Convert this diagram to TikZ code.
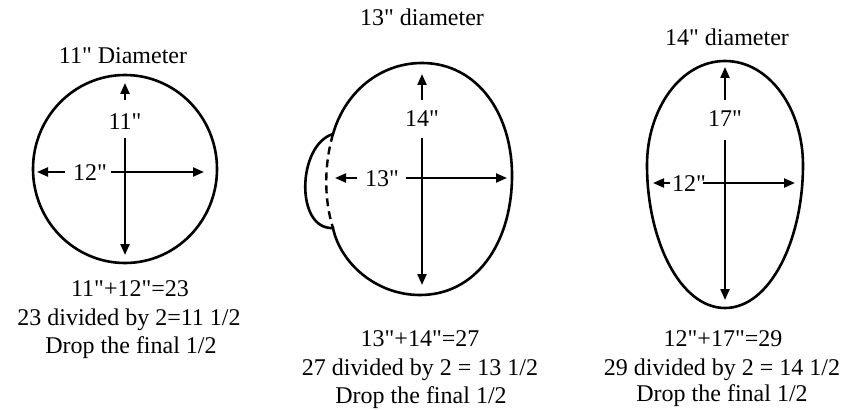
\documentclass[tikz,border=0pt]{standalone}
\usepackage{fontspec}
\setmainfont{Liberation Serif}[Ligatures=TeXOff]
\usetikzlibrary{arrows.meta}
\begin{document}
\begin{tikzpicture}[x=1pt,y=-1pt,
  txt/.style={font=\fontsize{24}{28}\selectfont, inner sep=0pt, anchor=base},
  outl/.style={line width=2.6pt},
  arr/.style={line width=2.2pt,-{Triangle[length=11pt,width=9pt]}},
  stem/.style={line width=2.2pt}]
\useasboundingbox (0,0) rectangle (842,409);

% ---------- Panel 1 ----------
\node[txt] (t1) at (123,63.5) {11" Diameter};
\draw[outl] (125,169) ellipse [x radius=92, y radius=94];
\node[txt] (v1l) at (125,129.5) {11"};
\node[txt] (h1l) at (90,180.5) {12"};
\coordinate (v1a) at (125,100);  \coordinate (v1t) at (125,83);
\coordinate (v1b) at (125,138);  \coordinate (v1d) at (125,255);
\coordinate (h1a) at (65,172);   \coordinate (h1t) at (37,172);
\coordinate (h1b) at (111,172);  \coordinate (h1r) at (204,172);
\draw[arr] (v1a) -- (v1t);
\draw[arr] (v1b) -- (v1d);
\draw[arr] (h1a) -- (h1t);
\draw[arr] (h1b) -- (h1r);
\node[txt] (a1) at (130,296.5) {11"+12"=23};
\node[txt] (b1) at (129,325.5) {23 divided by 2=11 1/2};
\node[txt] (c1) at (131,353.5) {Drop the final 1/2};

% ---------- Panel 2 ----------
\node[txt] (t2) at (422,25.5) {13" diameter};
\draw[outl] (422,63) .. controls (478,63) and (513,115) .. (512,178)
  .. controls (511,245) and (475,295) .. (420,295)
  .. controls (375,295) and (340,262) .. (333,228)
  .. controls (295,230) and (297,145) .. (333,134)
  .. controls (345,92) and (380,63) .. (422,63) -- cycle;
\draw[line width=2.4pt, dash pattern=on 8pt off 5pt] (333,134) .. controls (324,165) and (324,200) .. (333,228);
\node[txt] (v2l) at (422,126.5) {14"};
\node[txt] (h2l) at (382,186.5) {13"};
\coordinate (v2a) at (422,100);  \coordinate (v2t) at (422,74);
\coordinate (v2b) at (422,138);  \coordinate (v2d) at (422,285);
\coordinate (h2a) at (357,178);  \coordinate (h2t) at (335,178);
\coordinate (h2b) at (406,178);  \coordinate (h2r) at (507,178);
\draw[arr] (v2a) -- (v2t);
\draw[arr] (v2b) -- (v2d);
\draw[arr] (h2a) -- (h2t);
\draw[arr] (h2b) -- (h2r);
\node[txt] (a2) at (420,346.5) {13"+14"=27};
\node[txt] (b2) at (420,375.5) {27 divided by 2 = 13 1/2};
\node[txt] (c2) at (421,403) {Drop the final 1/2};

% ---------- Panel 3 ----------
\node[txt] (t3) at (727,45.5) {14" diameter};
\draw[outl] (725,61) .. controls (770,61) and (803,110) .. (803,165)
  .. controls (803,240) and (770,308) .. (725,308)
  .. controls (680,308) and (647,240) .. (647,165)
  .. controls (647,110) and (680,61) .. (725,61) -- cycle;
\node[txt] (v3l) at (725,126.5) {17"};
\node[txt] (h3l) at (689,191.5) {12"};
\coordinate (v3a) at (725,100);  \coordinate (v3t) at (725,67);
\coordinate (v3b) at (725,140);  \coordinate (v3d) at (725,300);
\coordinate (h3a) at (670,183);  \coordinate (h3t) at (653,183);
\coordinate (h3b) at (703,183);  \coordinate (h3r) at (795,183);
\draw[arr] (v3a) -- (v3t);
\draw[arr] (v3b) -- (v3d);
\draw[arr] (h3a) -- (h3t);
\draw[arr] (h3b) -- (h3r);
\node[txt] (a3) at (723,346.5) {12"+17"=29};
\node[txt] (b3) at (722,375.5) {29 divided by 2 = 14 1/2};
\node[txt] (c3) at (722,401) {Drop the final 1/2};
\end{tikzpicture}
\end{document}
